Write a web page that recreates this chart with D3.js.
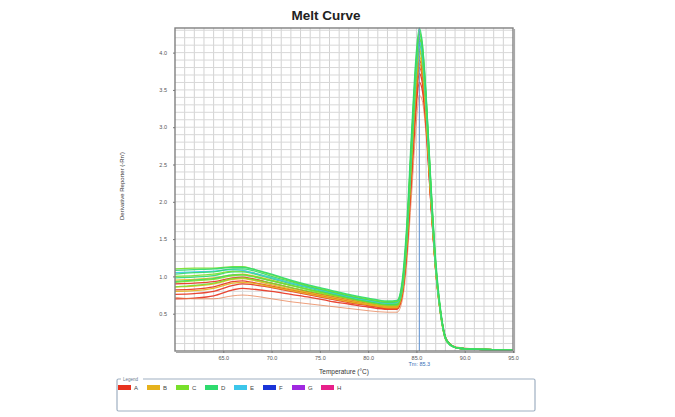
<!DOCTYPE html>
<html>
<head>
<meta charset="utf-8">
<script src="https://cdn.jsdelivr.net/npm/d3@7"></script>
<style>
  html, body { margin: 0; padding: 0; background: #fff; }
  svg { display: block; font-family: "Liberation Sans", Arial, sans-serif; }
</style>
</head>
<body>
<svg id="chart" width="675" height="417"></svg>
<script>
// ---------- DATA ----------
const temperatures = [60, 62, 64, 66, 67, 68, 70, 72, 74, 76, 78, 80, 82, 83,
  83.5, 84, 84.5, 85, 85.3, 85.6, 86, 86.5, 87, 87.5, 88, 88.5, 89, 90, 92, 95];

const xTicks = [65, 70, 75, 80, 85, 90, 95];
const yTicks = [0.5, 1.0, 1.5, 2.0, 2.5, 3.0, 3.5, 4.0];
const tmValue = 85.3;

const legendWells = ["A", "B", "C", "D", "E", "F", "G", "H"];
const legendColors = ["#e8321e", "#e6b21c", "#78e02a", "#2edb6e", "#3cc6ea", "#1a34d8", "#a028e0", "#e8208a"];

// each well's curves (Derivative Reporter)
const curveD1 = [1.08,1.09,1.10,1.12,1.12,1.10,1.03,0.95,0.88,0.82,0.76,0.71,0.67,0.68, 0.92,1.70,2.95,4.02,4.33,4.14,3.45,2.25,1.22,0.56,0.19,0.09,0.05,0.03,0.02,0.01];
const curveC1 = [1.10,1.11,1.11,1.13,1.13,1.10,1.02,0.94,0.87,0.81,0.75,0.70,0.66,0.67, 0.88,1.62,2.85,3.95,4.28,4.12,3.42,2.22,1.18,0.54,0.18,0.09,0.05,0.03,0.02,0.01];
const curveD2 = [1.03,1.05,1.06,1.10,1.10,1.08,1.00,0.93,0.86,0.80,0.74,0.69,0.65,0.66, 0.86,1.58,2.80,3.90,4.25,4.08,3.40,2.20,1.16,0.52,0.17,0.08,0.05,0.03,0.02,0.01];
const curveE1 = [1.05,1.06,1.07,1.09,1.08,1.05,0.98,0.91,0.85,0.79,0.73,0.68,0.64,0.65, 0.84,1.55,2.74,3.82,4.15,3.98,3.30,2.12,1.10,0.50,0.17,0.08,0.05,0.03,0.02,0.01];
const curveC2 = [1.00,1.01,1.03,1.07,1.07,1.05,0.98,0.91,0.85,0.79,0.73,0.68,0.64,0.64, 0.85,1.60,2.80,3.88,4.20,4.02,3.32,2.14,1.12,0.51,0.17,0.08,0.05,0.03,0.02,0.01];
const curveD3 = [0.98,0.99,1.01,1.06,1.06,1.04,0.97,0.90,0.84,0.78,0.72,0.67,0.63,0.63, 0.83,1.56,2.76,3.85,4.18,4.03,3.36,2.18,1.15,0.53,0.18,0.08,0.05,0.03,0.02,0.01];
const curveC3 = [0.92,0.94,0.96,1.01,1.02,1.00,0.94,0.88,0.82,0.76,0.71,0.66,0.62,0.62, 0.82,1.52,2.70,3.80,4.12,3.95,3.28,2.10,1.10,0.50,0.16,0.08,0.05,0.03,0.02,0.01];
const curveD4 = [0.93,0.95,0.97,1.02,1.02,1.00,0.94,0.88,0.82,0.77,0.71,0.66,0.62,0.62, 0.80,1.48,2.65,3.76,4.10,3.96,3.32,2.16,1.14,0.52,0.17,0.08,0.05,0.03,0.02,0.01];
const curveB1 = [0.95,0.96,0.98,1.02,1.03,1.01,0.95,0.88,0.82,0.76,0.70,0.65,0.61,0.61, 0.80,1.50,2.64,3.72,4.05,3.88,3.20,2.04,1.06,0.48,0.16,0.08,0.05,0.03,0.02,0.01];
const curveC4 = [0.86,0.88,0.91,0.97,0.98,0.96,0.91,0.85,0.80,0.75,0.70,0.65,0.61,0.61, 0.79,1.46,2.60,3.68,4.02,3.86,3.22,2.08,1.10,0.50,0.17,0.08,0.05,0.03,0.02,0.01];
const curveB2 = [0.86,0.87,0.90,0.96,0.97,0.95,0.89,0.83,0.78,0.73,0.68,0.63,0.60,0.60, 0.78,1.44,2.56,3.62,3.95,3.80,3.16,2.04,1.08,0.50,0.17,0.09,0.05,0.03,0.02,0.01];
const curveA1 = [0.90,0.91,0.93,0.98,0.99,0.97,0.91,0.85,0.79,0.74,0.69,0.64,0.60,0.60, 0.78,1.42,2.52,3.58,3.90,3.76,3.14,2.04,1.10,0.52,0.18,0.09,0.05,0.03,0.02,0.01];
const curveB3 = [0.80,0.81,0.84,0.91,0.92,0.91,0.86,0.81,0.76,0.71,0.66,0.62,0.58,0.58, 0.76,1.40,2.48,3.52,3.85,3.72,3.12,2.02,1.08,0.50,0.17,0.09,0.05,0.03,0.02,0.01];
const curveA2 = [0.82,0.83,0.86,0.93,0.94,0.92,0.87,0.82,0.77,0.72,0.67,0.62,0.58,0.58, 0.75,1.38,2.45,3.48,3.80,3.68,3.10,2.02,1.09,0.51,0.18,0.09,0.05,0.03,0.02,0.01];
const curveA3 = [0.76,0.77,0.80,0.88,0.90,0.89,0.85,0.80,0.75,0.70,0.65,0.61,0.57,0.57, 0.74,1.34,2.38,3.40,3.72,3.60,3.04,1.98,1.07,0.50,0.18,0.09,0.05,0.03,0.02,0.01];
const curveA4 = [0.70,0.71,0.74,0.82,0.84,0.83,0.80,0.76,0.72,0.67,0.63,0.59,0.56,0.56, 0.72,1.30,2.30,3.30,3.60,3.50,2.98,1.96,1.08,0.51,0.18,0.09,0.05,0.03,0.02,0.01];
const curveB4 = [0.72,0.70,0.70,0.74,0.75,0.74,0.70,0.66,0.63,0.60,0.57,0.54,0.52,0.52, 0.66,1.18,2.10,3.08,3.43,3.36,2.90,1.96,1.10,0.54,0.20,0.10,0.06,0.04,0.02,0.01];

// drawing order: reds/oranges underneath, greens on top
const curveWells = ["A", "B", "A", "A", "B", "A", "B", "C", "B", "D", "C", "D", "C", "E", "D", "C", "D"];
const curveValues = [curveA4, curveB4, curveA3, curveA2, curveB3, curveA1, curveB2, curveC4, curveB1,
                     curveD4, curveC3, curveD3, curveC2, curveE1, curveD2, curveC1, curveD1];
const thinCurveIndex = 1;

// ---------- CHART ----------
const svg = d3.select("#chart");
const W = 675, H = 417;
const plot = { left: 175, right: 513, top: 28, bottom: 351 };

const x = d3.scaleLinear().domain([60, 95]).range([plot.left, plot.right]);
const y = d3.scaleLinear().domain([0, 4.33]).range([plot.bottom, plot.top]);
const color = d3.scaleOrdinal().domain(legendWells).range(legendColors);

svg.append("rect").attr("width", W).attr("height", H).attr("fill", "#fff");

// title
svg.append("text")
  .attr("x", 326).attr("y", 20)
  .attr("text-anchor", "middle")
  .attr("font-size", 13.5).attr("font-weight", "bold")
  .attr("fill", "#222")
  .text("Melt Curve");

// grid
const grid = svg.append("g");
grid.selectAll("line.v").data(d3.range(61, 95)).join("line")
  .attr("x1", d => x(d)).attr("x2", d => x(d))
  .attr("y1", plot.top).attr("y2", plot.bottom)
  .attr("stroke", "#d2d2d2").attr("stroke-width", 1);
grid.selectAll("line.h").data(d3.range(1, 44).map(i => i / 10)).join("line")
  .attr("x1", plot.left).attr("x2", plot.right)
  .attr("y1", d => y(d)).attr("y2", d => y(d))
  .attr("stroke", "#d8d8d8").attr("stroke-width", 1);

// curves
svg.append("clipPath").attr("id", "clip")
  .append("rect").attr("x", plot.left).attr("y", plot.top - 2)
  .attr("width", plot.right - plot.left).attr("height", plot.bottom - plot.top + 2);

const line = d3.line()
  .x((d, i) => x(temperatures[i]))
  .y(d => y(d))
  .curve(d3.curveMonotoneX);

svg.append("g").attr("clip-path", "url(#clip)")
  .selectAll("path").data(curveValues).join("path")
  .attr("d", d => line(d))
  .attr("fill", "none")
  .attr("stroke", (d, i) => i === thinCurveIndex ? "#e87a4a" : color(curveWells[i]))
  .attr("stroke-width", (d, i) => i === thinCurveIndex ? 0.9 : 1.3)
  .attr("stroke-opacity", (d, i) => i === thinCurveIndex ? 0.8 : 0.9);

// Tm line
svg.append("line")
  .attr("x1", x(tmValue)).attr("x2", x(tmValue))
  .attr("y1", plot.top).attr("y2", plot.bottom)
  .attr("stroke", "#5b8fcf").attr("stroke-width", 1);

// frame
svg.append("rect")
  .attr("x", plot.left).attr("y", plot.top)
  .attr("width", plot.right - plot.left).attr("height", plot.bottom - plot.top)
  .attr("fill", "none").attr("stroke", "#808080").attr("stroke-width", 1.4);
svg.append("path")
  .attr("d", `M${plot.right + 1.5},${plot.top + 1}V${plot.bottom + 1.5}H${plot.left + 1}`)
  .attr("fill", "none").attr("stroke", "#a8a8a8").attr("stroke-width", 1.2);

// axes
const xAxis = d3.axisBottom(x).tickValues(xTicks).tickFormat(d3.format(".1f"))
  .tickSize(2).tickPadding(3);
const gx = svg.append("g").attr("transform", `translate(0,${plot.bottom})`).call(xAxis);
gx.select(".domain").remove();
gx.selectAll("line").attr("stroke", "#777");
gx.selectAll("text").attr("font-size", 5.5).attr("fill", "#555")
  .attr("font-family", "Liberation Sans, Arial, sans-serif");

const yAxis = d3.axisLeft(y).tickValues(yTicks).tickFormat(d3.format(".1f"))
  .tickSize(2).tickPadding(6);
const gy = svg.append("g").attr("transform", `translate(${plot.left},0)`).call(yAxis);
gy.select(".domain").remove();
gy.selectAll("line").attr("stroke", "#777");
gy.selectAll("text").attr("font-size", 5.5).attr("fill", "#555")
  .attr("font-family", "Liberation Sans, Arial, sans-serif");

// Tm label
svg.append("text")
  .attr("x", x(tmValue)).attr("y", 366)
  .attr("text-anchor", "middle")
  .attr("font-size", 5.5).attr("fill", "#3b6fb8")
  .text("Tm: " + tmValue.toFixed(1));

// axis titles
svg.append("text")
  .attr("x", 344).attr("y", 374)
  .attr("text-anchor", "middle")
  .attr("font-size", 6.5).attr("fill", "#333")
  .text("Temperature (°C)");

svg.append("text")
  .attr("transform", "translate(124,186) rotate(-90)")
  .attr("text-anchor", "middle")
  .attr("font-size", 6).attr("fill", "#333")
  .text("Derivative Reporter (-Rn')");

// legend
const lg = svg.append("g");
lg.append("rect")
  .attr("x", 117).attr("y", 379).attr("width", 418).attr("height", 32).attr("rx", 1.5)
  .attr("fill", "#fff").attr("stroke", "#9fb0c2").attr("stroke-width", 1.2);
lg.append("rect").attr("x", 121).attr("y", 377).attr("width", 22).attr("height", 4).attr("fill", "#fff");
lg.append("text").attr("x", 123).attr("y", 381)
  .attr("font-size", 4.5).attr("fill", "#6a7a90").text("Legend");

const items = lg.selectAll("g.item").data(legendWells).join("g")
  .attr("transform", (d, i) => `translate(${118 + i * 29},385)`);
items.append("rect").attr("width", 13).attr("height", 5)
  .attr("fill", d => color(d));
items.append("text").attr("x", 16).attr("y", 5)
  .attr("font-size", 6).attr("fill", "#444").text(d => d);
</script>
</body>
</html>
